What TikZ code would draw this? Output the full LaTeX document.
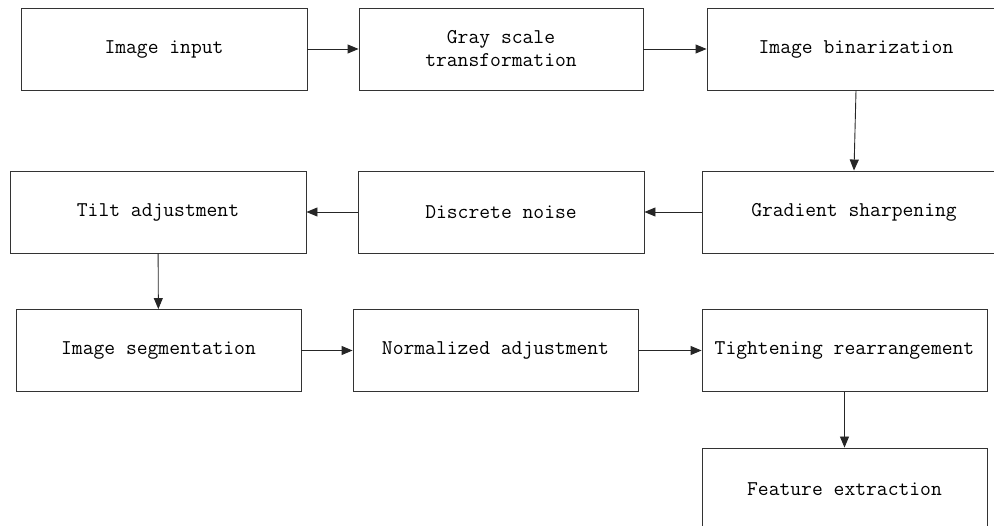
\documentclass[tikz,border=0pt]{standalone}
\usepackage{tikz}
\usetikzlibrary{arrows.meta}

\begin{document}
\begin{tikzpicture}[x=1pt, y=-1pt,
    box/.style={draw=black!80, line width=0.9pt, rectangle, inner sep=2pt,
        minimum height=82pt, align=center,
        font=\ttfamily\fontsize{21}{23}\selectfont},
    flow/.style={-{Triangle[length=11pt, width=9pt]}, line width=0.9pt, draw=black!85}]
    % picture frame
    \clip (0,0) rectangle (994,526);

    % first row
    \node[box, minimum width=286pt] (input) at (164,49) {Image input};
    \node[box, minimum width=284pt] (gray) at (501,49) {Gray scale\\transformation};
    \node[box, minimum width=298pt] (binar) at (856,49) {Image binarization};

    % second row
    \node[box, minimum width=304pt] (grad) at (854,212) {Gradient sharpening};
    \node[box, minimum width=286pt] (noise) at (501,212) {Discrete noise};
    \node[box, minimum width=296pt] (tilt) at (158,212) {Tilt adjustment};

    % third row
    \node[box, minimum width=285pt] (segm) at (158.5,350.5) {Image segmentation};
    \node[box, minimum width=285pt] (norm) at (495.5,350.5) {Normalized adjustment};
    \node[box, minimum width=285pt] (tight) at (844.5,350.5) {Tightening rearrangement};

    % last box
    \node[box, minimum width=285pt] (feat) at (844.5,489) {Feature extraction};

    % connectors
    \draw[flow] (input) -- (gray);
    \draw[flow] (gray) -- (binar);
    \draw[flow] (binar.south) -- (grad.north);
    \draw[flow] (grad) -- (noise);
    \draw[flow] (noise) -- (tilt);
    \draw[flow] (tilt) -- (segm);
    \draw[flow] (segm) -- (norm);
    \draw[flow] (norm) -- (tight);
    \draw[flow] (tight) -- (feat);
\end{tikzpicture}
\end{document}
